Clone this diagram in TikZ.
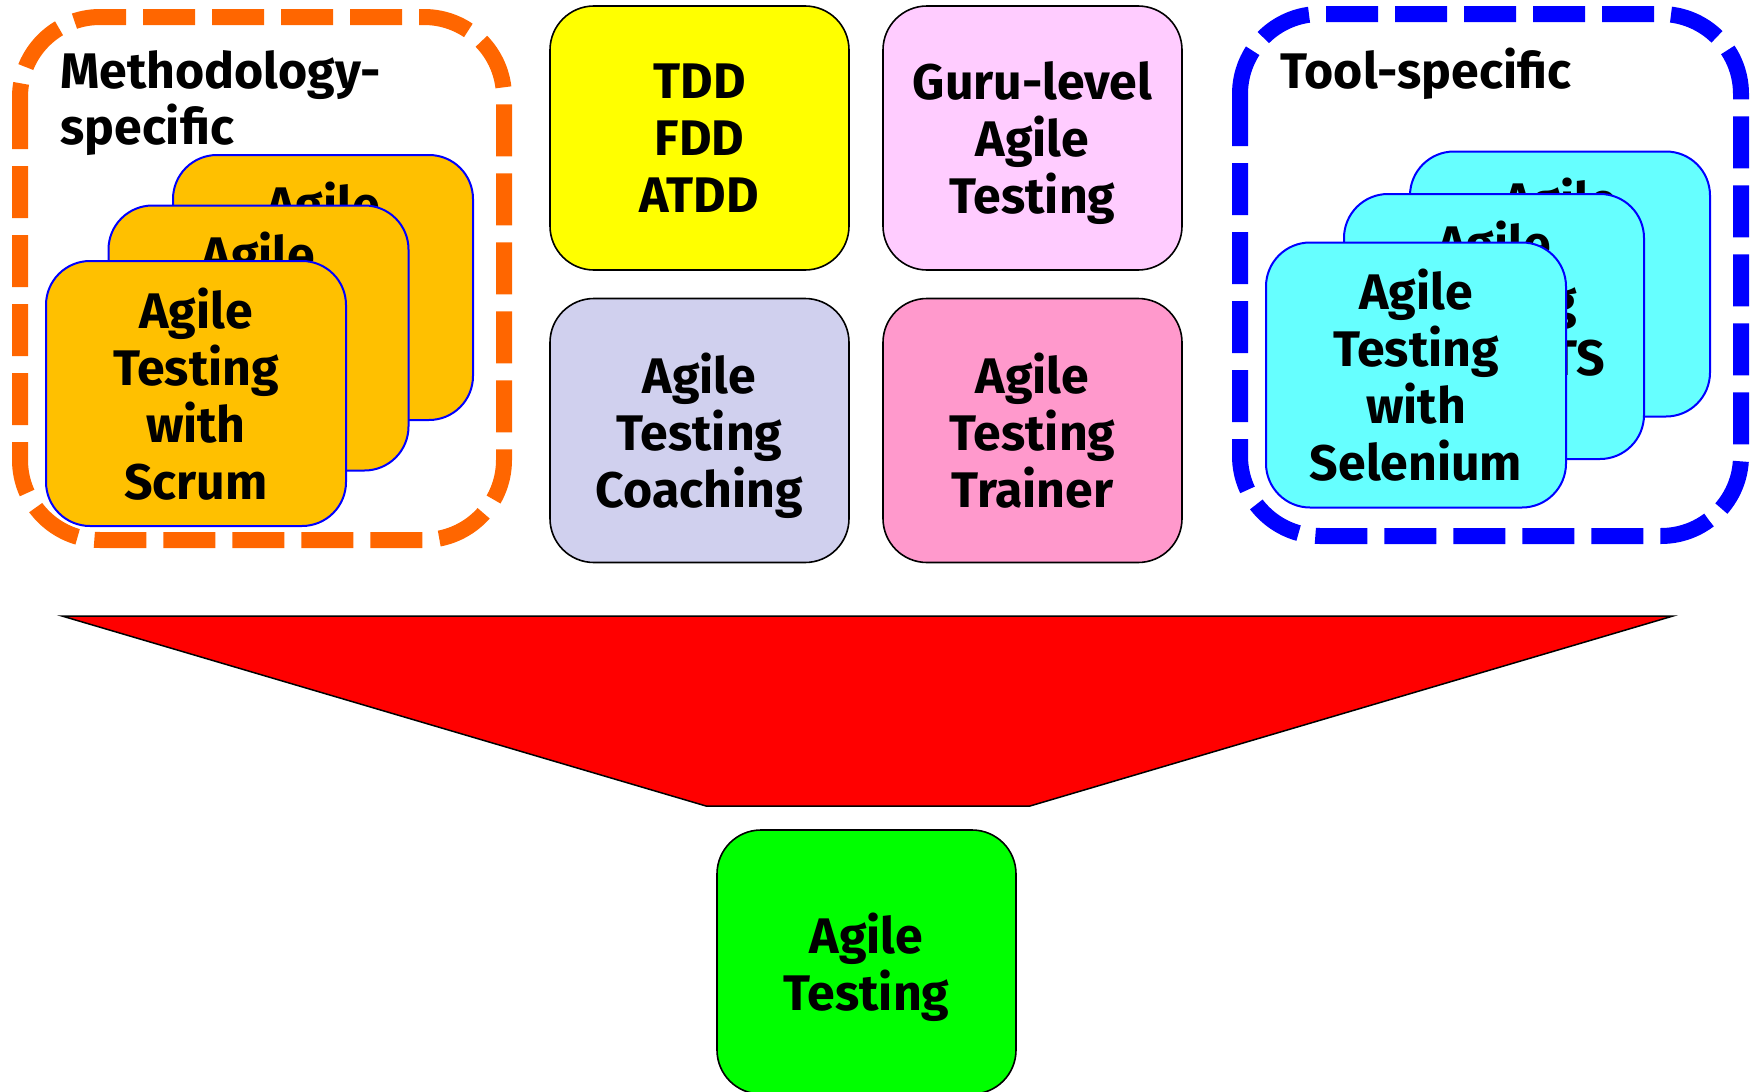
\documentclass[tikz,border=0pt]{standalone}
\usepackage{fontspec}
\setmainfont{Fira Sans}
\usepackage{tikz}
\usetikzlibrary{shapes}
\usetikzlibrary{positioning}
\tikzset{>=latex}
\definecolor{methorange}{HTML}{FF6600}
\definecolor{cardorange}{HTML}{FFC000}
\definecolor{toolcyan}{HTML}{66FFFF}
\definecolor{tddyellow}{HTML}{FFFF00}
\definecolor{gurupink}{HTML}{FFCCFF}
\definecolor{coachblue}{HTML}{D0D0EE}
\definecolor{trainpink}{HTML}{FF99CC}
\definecolor{basegreen}{HTML}{00FF00}
\tikzstyle{grp} = [line width=8pt, dash pattern=on 26pt off 8.5pt, rounded corners=40pt]
\tikzstyle{grptitle} = [draw=none, align=left, inner sep=0, anchor=north west, font=\fontsize{25}{28}\selectfont\bfseries]
\tikzstyle{card} = [draw=blue, line width=1pt, rounded corners=22pt, minimum width=150pt, minimum height=132.5pt, align=center, inner sep=0, text depth=0pt, font=\fontsize{25}{28.5}\selectfont\bfseries]
\tikzstyle{box} = [card, draw=black, line width=0.8pt, minimum width=149.5pt, minimum height=132pt]

\begin{document}
\begin{tikzpicture}[x=0.5pt, y=-0.5pt]
\useasboundingbox (0,0) rectangle (1757,1092);
% methodology group
\draw [grp, draw=methorange] (20,17) rectangle (504,540);
\node [grptitle] (mtitle) at (60,50) {Methodology-\\specific};
\node [card, fill=cardorange] (mkanban) at (323,287.5) {Agile\\Testing\\with\\Kanban};
\node [card, fill=cardorange] (mxp) at (258.5,338) {Agile\\Testing\\with\\XP};
\node [card, fill=cardorange] (mscrum) at (196,393.5) {Agile\\Testing\\with\\Scrum};
% tool group
\draw [grp, draw=blue] (1240,14) rectangle (1741,536);
\node [grptitle] (ttitle) at (1280,48) {Tool-specific};
\node [card, fill=toolcyan] (tjunit) at (1560,284) {Agile\\Testing\\with\\JUnit};
\node [card, fill=toolcyan] (tvsts) at (1494,326.5) {Agile\\Testing\\with VSTS\\};
\node [card, fill=toolcyan] (tsel) at (1416,375) {Agile\\Testing\\with\\Selenium};
% middle
\node [box, fill=tddyellow] (tdd) at (699.5,138) {TDD\\FDD\\ATDD};
\node [box, fill=gurupink] (guru) at (1032.5,138) {Guru-level\\Agile\\Testing};
\node [box, fill=coachblue] (coach) at (699.5,430.5) {Agile\\Testing\\Coaching};
\node [box, fill=trainpink] (trainer) at (1032.5,430.5) {Agile\\Testing\\Trainer};
% funnel
\draw [fill=red, line width=0.75pt] (62,616) -- (1673,616) -- (1030,806) -- (706,806) -- cycle;
\node [box, fill=basegreen] (agile) at (866.5,962) {Agile\\Testing};
\end{tikzpicture}
\end{document}
